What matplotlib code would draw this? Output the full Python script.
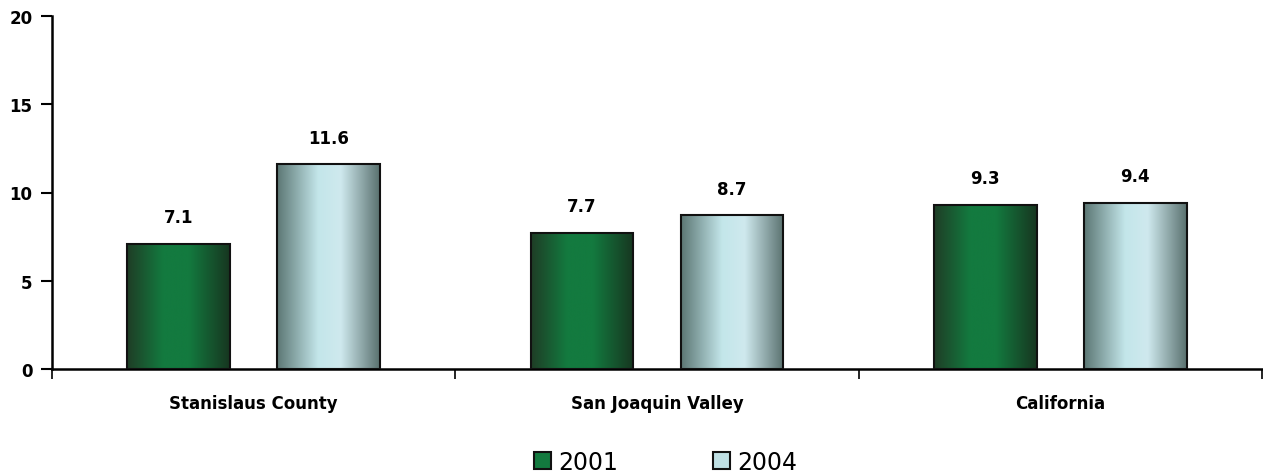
import numpy as np
import matplotlib
matplotlib.use("Agg")
import matplotlib.pyplot as plt
from matplotlib.colors import LinearSegmentedColormap
from matplotlib.patches import Patch

# Data
categories = ["Stanislaus County", "San Joaquin Valley", "California"]
years = ["2001", "2004"]
values_2001 = [7.1, 7.7, 9.3]
values_2004 = [11.6, 8.7, 9.4]

# Gradient colour stops (left edge -> highlight -> right edge)
green_cmap = LinearSegmentedColormap.from_list(
    "green_bar", [(0.0, "#1f3d26"), (0.35, "#137a3f"), (0.6, "#137a3f"), (1.0, "#173620")])
blue_cmap = LinearSegmentedColormap.from_list(
    "blue_bar", [(0.0, "#5c7774"), (0.4, "#c3e6ea"), (0.62, "#cfe9ee"), (1.0, "#5a716f")])

fig = plt.figure(figsize=(12.63, 4.77), dpi=100)
ax = fig.add_axes([52 / 1263, 107 / 477, 1210 / 1263, 353 / 477])

x = np.arange(len(categories))
width = 0.255
offset = 0.186

grad = np.linspace(0, 1, 256).reshape(1, -1)


def gradient_bars(xpos, vals, cmap):
    bars = ax.bar(xpos, vals, width, facecolor="none", edgecolor="#111111",
                  linewidth=1.5, zorder=3)
    for b in bars:
        x0, y0 = b.get_x(), b.get_y()
        w, h = b.get_width(), b.get_height()
        im = ax.imshow(grad, cmap=cmap, aspect="auto",
                       extent=[x0, x0 + w, y0, y0 + h], zorder=2)
        im.set_clip_path(b)
    return bars


gradient_bars(x - offset, values_2001, green_cmap)
gradient_bars(x + offset, values_2004, blue_cmap)

# value labels
for xi, v in zip(x - offset, values_2001):
    ax.text(xi, v + 1.0, f"{v:.1f}", ha="center", va="bottom",
            fontsize=12, fontweight="bold")
for xi, v in zip(x + offset, values_2004):
    ax.text(xi, v + 1.0, f"{v:.1f}", ha="center", va="bottom",
            fontsize=12, fontweight="bold")

ax.set_xlim(-0.5, 2.5)
ax.set_ylim(0, 20)
ax.set_yticks([0, 5, 10, 15, 20])
ax.tick_params(axis="y", labelsize=12, length=8, width=1.5, pad=6, direction="out")
for lab in ax.get_yticklabels():
    lab.set_fontweight("bold")

# category boundaries as ticks, names centred
ax.set_xticks([-0.5, 0.5, 1.5, 2.5])
ax.set_xticklabels([])
ax.set_xticks(x, minor=True)
ax.set_xticklabels(categories, minor=True, fontsize=12, fontweight="bold")
ax.tick_params(axis="x", which="major", length=7, width=1.2)
ax.tick_params(axis="x", which="minor", length=0, pad=18)

for s in ["top", "right"]:
    ax.spines[s].set_visible(False)
ax.spines["left"].set_linewidth(1.8)
ax.spines["bottom"].set_linewidth(1.8)

handles = [Patch(facecolor="#137a3f", edgecolor="#111111", linewidth=1.5),
           Patch(facecolor="#bfe0e4", edgecolor="#111111", linewidth=1.5)]
fig.legend(handles, years, loc="center", bbox_to_anchor=(0.527, 0.03), ncol=2,
           frameon=False, fontsize=17, handlelength=0.75, handleheight=0.75,
           handletextpad=0.3, columnspacing=4.0)

fig.savefig("out.png", dpi=100)
